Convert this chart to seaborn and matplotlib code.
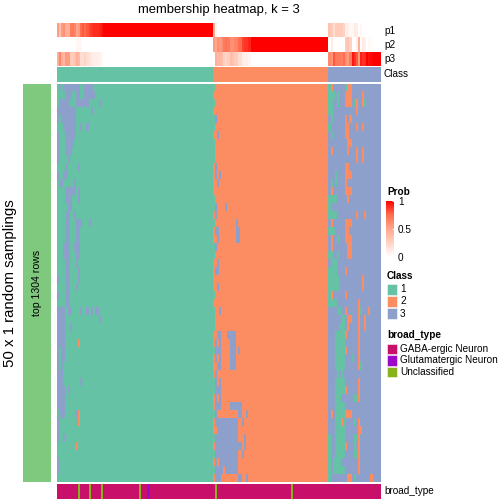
import numpy as np
import matplotlib
matplotlib.use("Agg")
import matplotlib.pyplot as plt
import seaborn as sns
from matplotlib.colors import ListedColormap, LinearSegmentedColormap, Normalize
from matplotlib.cm import ScalarMappable
from matplotlib.patches import Rectangle

# number of columns (samples) in each consensus class
n_class1, n_class2, n_class3 = 74, 55, 25

class_names = ["1", "2", "3"]
class_colors = ["#66C2A5", "#FC8D62", "#8DA0CB"]

broad_names = ["GABA-ergic Neuron", "Glutamatergic Neuron", "Unclassified"]
broad_colors = ["#C8106A", "#9A0AC8", "#86B31A"]

# class called in each of the 50 samplings; only the leading columns of each block
# are written, the rest of the block keeps its own class
rows_class1 = [
    "1313333333311333311111", "1111333113311333331111", "1333331113333331111131",
    "3333333331111111311111", "3133333331111111111111", "1113333331131131111111",
    "3111333331111111111111", "3111333311111111111111", "3111333111111111111111",
    "3111131111111111111111", "1111311111311111111111", "3113311111111111111111",
    "1331111131111111111111", "1111333331311111111111", "1111333111311111111111",
    "1111133111111111111111", "1111331131111111111111", "1111331113331113111111",
    "1111331113311111111111", "1111331113311111111111", "1113331133311111111111",
    "1113331113311111111111", "1111331113111111111111", "1111331111311111111111",
    "3111331111311111111111", "1111331113111111111111", "3111331111111111111111",
    "1111331111111111111111", "3333133111131131313311", "3333111111111111111131",
    "3333113111111111111111", "3333111111111111111111", "3333111111211111111111",
    "3133111111111111111111", "3133111111111111111111", "3131111111111111111111",
    "3331111111111111111111", "3331111111131111111111", "3333131111111111111111",
    "3333111111111111111111", "3333111111111111111111", "1333111113211111111111",
    "3111111111211111111111", "3111111111111111111111", "3113111111111111111111",
    "1111111112111111111111", "1", "3", "3", "1",
]
rows_class2 = [
    "1", "2", "1", "2", "13", "1", "223", "1", "1", "1",
    "23", "2323", "223", "2", "1", "1322223", "23", "122222222223",
    "2332222222233", "2232222222233", "13", "1", "223", "233", "2",
    "223", "1", "2", "1223", "1", "1", "22332223333", "23232222333",
    "1333222233323", "23232222333", "22332222333", "23", "1323", "1333",
    "2323", "23332222333333", "13222222222233223", "233333333333223",
    "223333333333", "1333333333332223", "2333333333333323",
    "133333333333223", "232333333333", "133332333333", "23332222222233223",
]
rows_class3 = [
    "12333333122", "11131333222333332", "113313332223123321", "11333333333332",
    "31333333232", "13333333223332332", "3133333322", "33333333322",
    "32333333323332332", "33333333333332332", "3333333322", "33313333222",
    "313133332", "32333333222", "1111333332", "1", "111133333333323332",
    "32333333222", "1113333322", "32331333222", "32333333322", "11331333322",
    "3111", "111133332", "11111333333333332", "11111333333333332", "123333332",
    "111133333333332", "33331133233333213332", "333333113223332332",
    "333331113233332332", "333111112333332", "333111113333332",
    "333111112333332", "333111113331332", "3331111133333321", "3333131",
    "333111113333332", "333111112333332", "333111333333112", "33311111",
    "32311111222", "333111213333132", "3331111133333322", "133111113333112",
    "133111112333132", "133111113333112", "131111333333332",
    "131111113333332", "133333333223133333332",
]

# membership probabilities, leading columns of each block (rest: 1 for own class, 0 otherwise)
p1_class1 = [0.55, 0.35, 0.55, 0.6, 0.45, 0.45, 0.7, 0.7, 0.65, 0.5, 0.55, 0.75,
             0.8, 0.75, 0.8, 0.85, 0.88, 0.9, 0.9, 0.9, 0.92, 0.95]
p2_class1 = [0, 0, 0, 0, 0, 0, 0, 0, 0, 0.05, 0.05, 0.05]
p3_class1 = [0.45, 0.65, 0.45, 0.4, 0.55, 0.55, 0.3, 0.3, 0.35, 0.45, 0.4, 0.2,
             0.2, 0.25, 0.2, 0.15, 0.12, 0.1, 0.1, 0.1, 0.08, 0.05]
p1_class2 = [0.45, 0.05]
p2_class2 = [0.55, 0.5, 0.6, 0.55, 0.6, 0.7, 0.72, 0.7, 0.6, 0.6, 0.65, 0.65,
             0.75, 0.75, 0.85, 0.88, 0.88, 0.92]
p3_class2 = [0.0, 0.45, 0.4, 0.42, 0.38, 0.28, 0.25, 0.28, 0.38, 0.35, 0.3, 0.3,
             0.2, 0.2, 0.1, 0.1, 0.1, 0.06]
p1_class3 = [0.35, 0.3, 0.2, 0.3, 0.3, 0.3, 0.3, 0.25, 0.1, 0.1, 0.05, 0.05,
             0.12, 0.1, 0, 0.05, 0, 0.02]
p2_class3 = [0.02, 0.12, 0, 0, 0, 0, 0.02, 0, 0.3, 0.35, 0.25, 0, 0, 0.1, 0.45,
             0.02, 0.12, 0.08, 0, 0.04, 0.02]
p3_class3 = [0.63, 0.58, 0.8, 0.7, 0.7, 0.7, 0.68, 0.75, 0.6, 0.55, 0.7, 0.95,
             0.88, 0.8, 0.55, 0.93, 0.88, 0.9, 1, 0.96, 0.98]

# columns whose broad_type is not GABA-ergic
unclassified_cols = [10, 15, 21, 39, 75, 111]
glutamatergic_cols = [43]


def expand(prefix, n, base):
    return [int(ch) for ch in prefix.ljust(n, base)]


def pad(vals, n, fill):
    return list(vals) + [fill] * (n - len(vals))


membership = np.array([
    expand(a, n_class1, "1") + expand(b, n_class2, "2") + expand(c, n_class3, "3")
    for a, b, c in zip(rows_class1, rows_class2, rows_class3)
])
n_cols = membership.shape[1]

prob = np.array([
    pad(p1_class1, n_class1, 1.0) + pad(p1_class2, n_class2, 0.0) + pad(p1_class3, n_class3, 0.0),
    pad(p2_class1, n_class1, 0.0) + pad(p2_class2, n_class2, 1.0) + pad(p2_class3, n_class3, 0.0),
    pad(p3_class1, n_class1, 0.0) + pad(p3_class2, n_class2, 0.0) + pad(p3_class3, n_class3, 1.0),
])
classes = np.array([[1] * n_class1 + [2] * n_class2 + [3] * n_class3])

broad = np.zeros((1, n_cols))
broad[0, unclassified_cols] = 2
broad[0, glutamatergic_cols] = 1

plt.rcParams["font.family"] = ["Liberation Sans", "DejaVu Sans"]

W = H = 504
fig = plt.figure(figsize=(7, 7), dpi=72)


def box(x0, y0, x1, y1):
    return [x0 / W, 1 - y1 / H, (x1 - x0) / W, (y1 - y0) / H]


def fx(x):
    return x / W


def fy(y):
    return 1 - y / H


prob_cmap = LinearSegmentedColormap.from_list(
    "prob", ["#FFFFFF", "#FFD4C6", "#FFA68D", "#FF6E4F", "#FF0000"])
class_cmap = ListedColormap(class_colors)
broad_cmap = ListedColormap(broad_colors)

hm_kw = dict(cbar=False, xticklabels=False, yticklabels=False)

ax_prob = fig.add_axes(box(57, 23.3, 381, 65.7))
sns.heatmap(prob, cmap=prob_cmap, vmin=0, vmax=1, ax=ax_prob, **hm_kw)

ax_cls = fig.add_axes(box(57, 66.7, 381, 81.7))
sns.heatmap(classes, cmap=class_cmap, vmin=0.5, vmax=3.5, ax=ax_cls, **hm_kw)

ax_main = fig.add_axes(box(57, 83.5, 381, 482))
sns.heatmap(membership, cmap=class_cmap, vmin=0.5, vmax=3.5, ax=ax_main, **hm_kw)

ax_bt = fig.add_axes(box(57, 483.7, 381, 499))
sns.heatmap(broad, cmap=broad_cmap, vmin=-0.5, vmax=2.5, ax=ax_bt, **hm_kw)

ax_left = fig.add_axes(box(23, 83.5, 51, 482))
ax_left.set_facecolor("#7FC97F")
ax_left.set_xticks([])
ax_left.set_yticks([])
for s in ax_left.spines.values():
    s.set_visible(False)
ax_left.text(0.5, 0.5, "top 1304 rows", rotation=90, ha="center", va="center",
             fontsize=10.5, transform=ax_left.transAxes)

for ax in (ax_prob, ax_cls, ax_main, ax_bt):
    ax.set_xlabel("")
    ax.set_ylabel("")

# titles and annotation names
fig.text(fx(219), fy(10), "membership heatmap, k = 3", ha="center", va="center", fontsize=13)
fig.text(fx(10), fy(282.7), "50 x 1 random samplings", rotation=90, ha="center",
         va="center", fontsize=15)
for label, y in zip(["p1", "p2", "p3", "Class"], [30.5, 44.6, 58.7, 74.2]):
    fig.text(fx(384), fy(y), label, ha="left", va="center", fontsize=10)
fig.text(fx(384), fy(491.5), "broad_type", ha="left", va="center", fontsize=10)

# Prob legend
fig.text(fx(387), fy(192), "Prob", ha="left", va="center", fontsize=10, fontweight="bold")
cax = fig.add_axes(box(386, 201, 394, 257))
cb = fig.colorbar(ScalarMappable(norm=Normalize(0, 1), cmap=prob_cmap), cax=cax,
                  ticks=[0, 0.5, 1])
cb.outline.set_visible(False)
cb.ax.set_yticklabels(["0", "0.5", "1"])
cax.tick_params(length=2, width=0.8, color="white", direction="in", labelsize=10, pad=4)

# Class legend
fig.text(fx(387), fy(276), "Class", ha="left", va="center", fontsize=10, fontweight="bold")
for i, (name, col) in enumerate(zip(class_names, class_colors)):
    yc = 289 + 12.3 * i
    fig.add_artist(Rectangle((fx(387), fy(yc + 5.5)), 10 / W, 11 / H, facecolor=col,
                             edgecolor="white", linewidth=0.5, transform=fig.transFigure))
    fig.text(fx(400), fy(yc), name, ha="left", va="center", fontsize=10)

# broad_type legend
fig.text(fx(387), fy(335), "broad_type", ha="left", va="center", fontsize=10, fontweight="bold")
for i, (name, col) in enumerate(zip(broad_names, broad_colors)):
    yc = 348.8 + 11.5 * i
    fig.add_artist(Rectangle((fx(387), fy(yc + 5.3)), 10 / W, 10.6 / H, facecolor=col,
                             edgecolor="white", linewidth=0.5, transform=fig.transFigure))
    fig.text(fx(400), fy(yc), name, ha="left", va="center", fontsize=10)

fig.savefig("out.png", dpi=72)
